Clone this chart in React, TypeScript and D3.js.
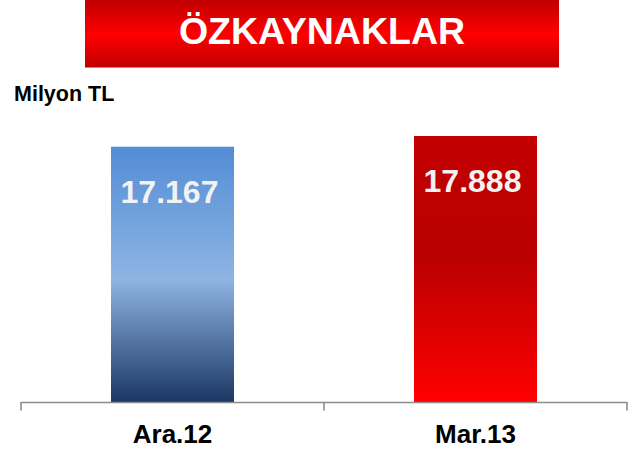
import React from "react";
import * as d3 from "d3";

const title = "ÖZKAYNAKLAR";
const unitLabel = "Milyon TL";
const categories = ["Ara.12", "Mar.13"];
const values = [17167, 17888];
const valueLabels = ["17.167", "17.888"];

const W = 644;
const H = 455;
const FONT = "Arial, 'Liberation Sans', Helvetica, sans-serif";

export default function App() {
  const x = d3.scaleBand<string>().domain(categories).range([21, 627]).padding(0);
  const y = d3.scaleLinear().domain([0, 20000]).range([402, 104.6]);
  const barW = x.bandwidth() * 0.406;
  const gradIds = ["gradBlue", "gradRed"];
  const ticks = [...categories.map((c) => x(c) as number), 627];

  return (
    <svg
      width={W}
      height={H}
      style={{ position: "absolute", left: 0, top: 0, display: "block" }}
      fontFamily={FONT}
    >
      <defs>
        <linearGradient id="gradTitle" x1="0" y1="0" x2="0" y2="1">
          <stop offset="0" stopColor="#c00000" />
          <stop offset="0.5" stopColor="#ff0000" />
          <stop offset="1" stopColor="#c00000" />
        </linearGradient>
        <linearGradient id="gradBlue" x1="0" y1="0" x2="0" y2="1">
          <stop offset="0" stopColor="#538dd5" />
          <stop offset="0.52" stopColor="#8eb4e3" />
          <stop offset="1" stopColor="#1b3763" />
        </linearGradient>
        <linearGradient id="gradRed" x1="0" y1="0" x2="0" y2="1">
          <stop offset="0" stopColor="#c20000" />
          <stop offset="0.45" stopColor="#ba0000" />
          <stop offset="1" stopColor="#ff0000" />
        </linearGradient>
      </defs>
      <rect x={0} y={0} width={W} height={H} fill="#ffffff" />
      <rect x={85} y={0} width={474} height={67.5} fill="url(#gradTitle)" />
      <text
        x={322}
        y={43.5}
        textAnchor="middle"
        fill="#ffffff"
        fontWeight="bold"
        fontSize={37.5}
      >
        {title}
      </text>
      <text x={14} y={101} fill="#000000" fontWeight="bold" fontSize={21.5}>
        {unitLabel}
      </text>
      {categories.map((c, i) => {
        const cx = (x(c) as number) + x.bandwidth() / 2;
        const top = y(values[i]);
        return (
          <g key={c}>
            <rect
              x={cx - barW / 2}
              y={top}
              width={barW}
              height={y(0) - top}
              fill={`url(#${gradIds[i]})`}
            />
            <text
              x={cx - 3}
              y={top + 56}
              textAnchor="middle"
              fill="#f2f2f2"
              fontWeight="bold"
              fontSize={32}
            >
              {valueLabels[i]}
            </text>
            <text
              x={cx}
              y={443}
              textAnchor="middle"
              fill="#000000"
              fontWeight="bold"
              fontSize={26}
            >
              {c}
            </text>
          </g>
        );
      })}
      <line x1={21} x2={627} y1={y(0) + 0.5} y2={y(0) + 0.5} stroke="#8c8c8c" strokeWidth={1.6} />
      {ticks.map((t, i) => (
        <line key={i} x1={t} x2={t} y1={y(0)} y2={410.5} stroke="#8c8c8c" strokeWidth={1.6} />
      ))}
    </svg>
  );
}
